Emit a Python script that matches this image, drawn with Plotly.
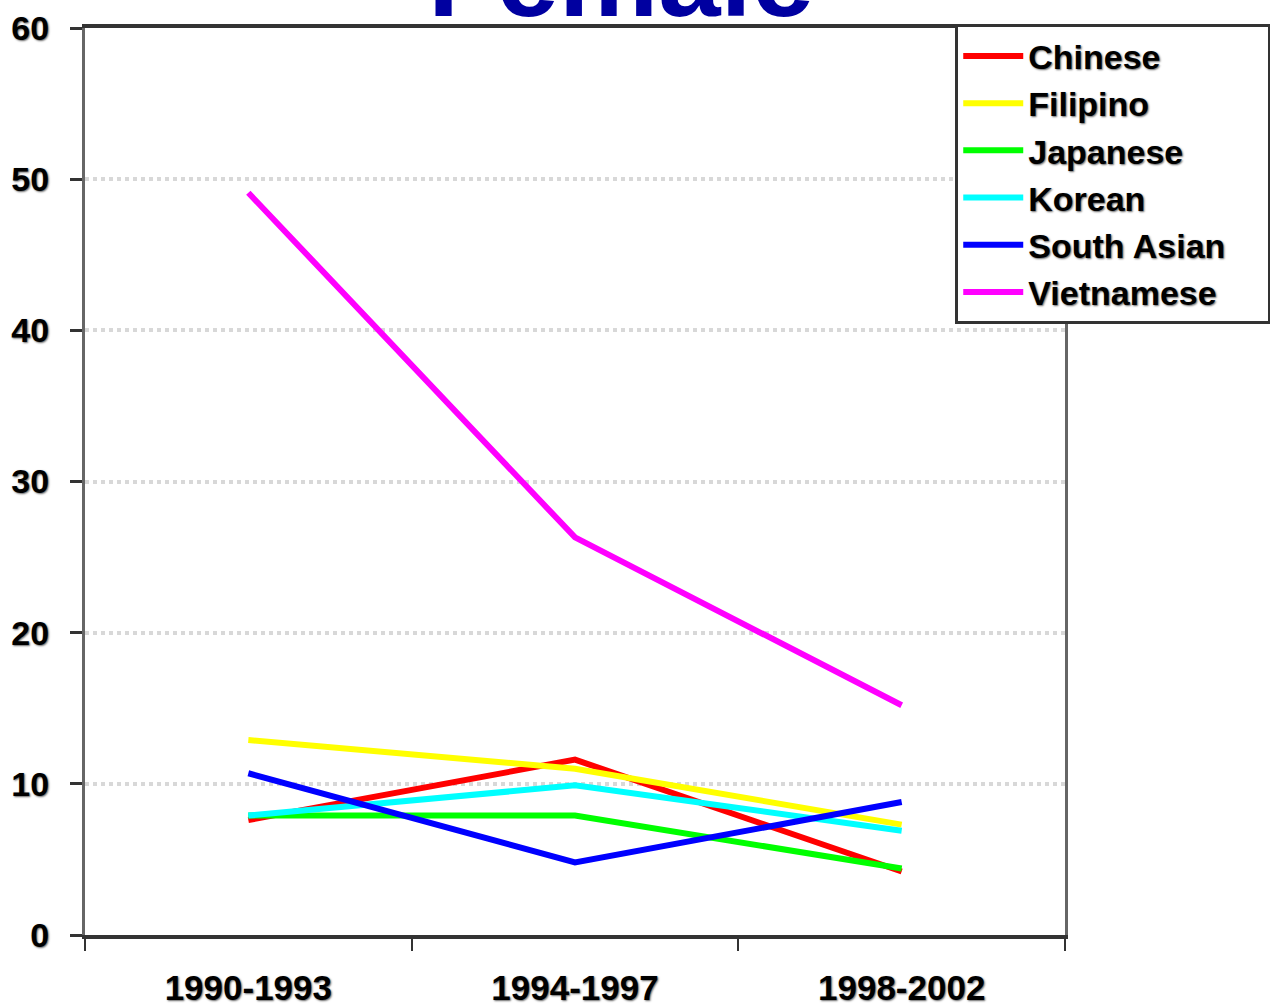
import plotly.graph_objects as go

# Data
periods = ["1990-1993", "1994-1997", "1998-2002"]
chinese = [7.6, 11.6, 4.2]
filipino = [12.9, 11.0, 7.3]
japanese = [7.9, 7.9, 4.4]
korean = [7.9, 9.9, 6.9]
south_asian = [10.7, 4.8, 8.8]
vietnamese = [49.1, 26.3, 15.2]

series = [
    ("Chinese", chinese, "#ff0000"),
    ("Filipino", filipino, "#ffff00"),
    ("Japanese", japanese, "#00ff00"),
    ("Korean", korean, "#00ffff"),
    ("South Asian", south_asian, "#0000ff"),
    ("Vietnamese", vietnamese, "#ff00ff"),
]

label_font = dict(family="Liberation Sans, Arial", size=34, color="black",
                  weight="bold", shadow="1px 1px 2px #666")

fig = go.Figure()
for name, vals, col in series:
    fig.add_trace(go.Scatter(x=periods, y=vals, name=name + "\u00a0" * 4,
                             mode="lines", line=dict(color=col, width=6)))

fig.update_layout(
    width=1270, height=1008,
    margin=dict(l=85, r=205, t=28, b=73, autoexpand=False),
    plot_bgcolor="white", paper_bgcolor="white",
    showlegend=True,
    legend=dict(x=0.888, y=1.004, xanchor="left", yanchor="top",
                bgcolor="white", bordercolor="#333", borderwidth=3,
                font=dict(family="Liberation Sans, Arial", size=34, color="black",
                          weight="bold", shadow="1px 1px 2px #666"),
                itemwidth=60, tracegroupgap=0),
)

fig.update_xaxes(
    type="category", range=[-0.5, 2.5], showgrid=False, automargin=False,
    showline=True, linecolor="#333", linewidth=4, mirror=True,
    ticks="outside", tickson="boundaries", ticklen=12, tickwidth=2, tickcolor="#333",
    tickfont=dict(label_font, size=35), ticklabelstandoff=19,
)
fig.update_yaxes(
    range=[0, 60], dtick=10, zeroline=False, automargin=False,
    showgrid=True, gridcolor="#d8d8d8", gridwidth=4, griddash="dot",
    showline=True, linecolor="#666", linewidth=3, mirror=True,
    ticks="outside", ticklen=12, tickwidth=3, tickcolor="#333",
    tickfont=label_font, ticklabelstandoff=14,
)

fig.add_annotation(text="Female", xref="paper", yref="paper", x=0.547, y=0.985,
                   xanchor="center", yanchor="bottom", showarrow=False,
                   font=dict(family="Liberation Sans, Arial", size=112,
                             color="#0000a0", weight="bold"))

# drop the default page margin so the chart sits at the window's corner
fig.write_html("out.html", config={"displayModeBar": False},
               post_script="document.body.style.margin='0';")
